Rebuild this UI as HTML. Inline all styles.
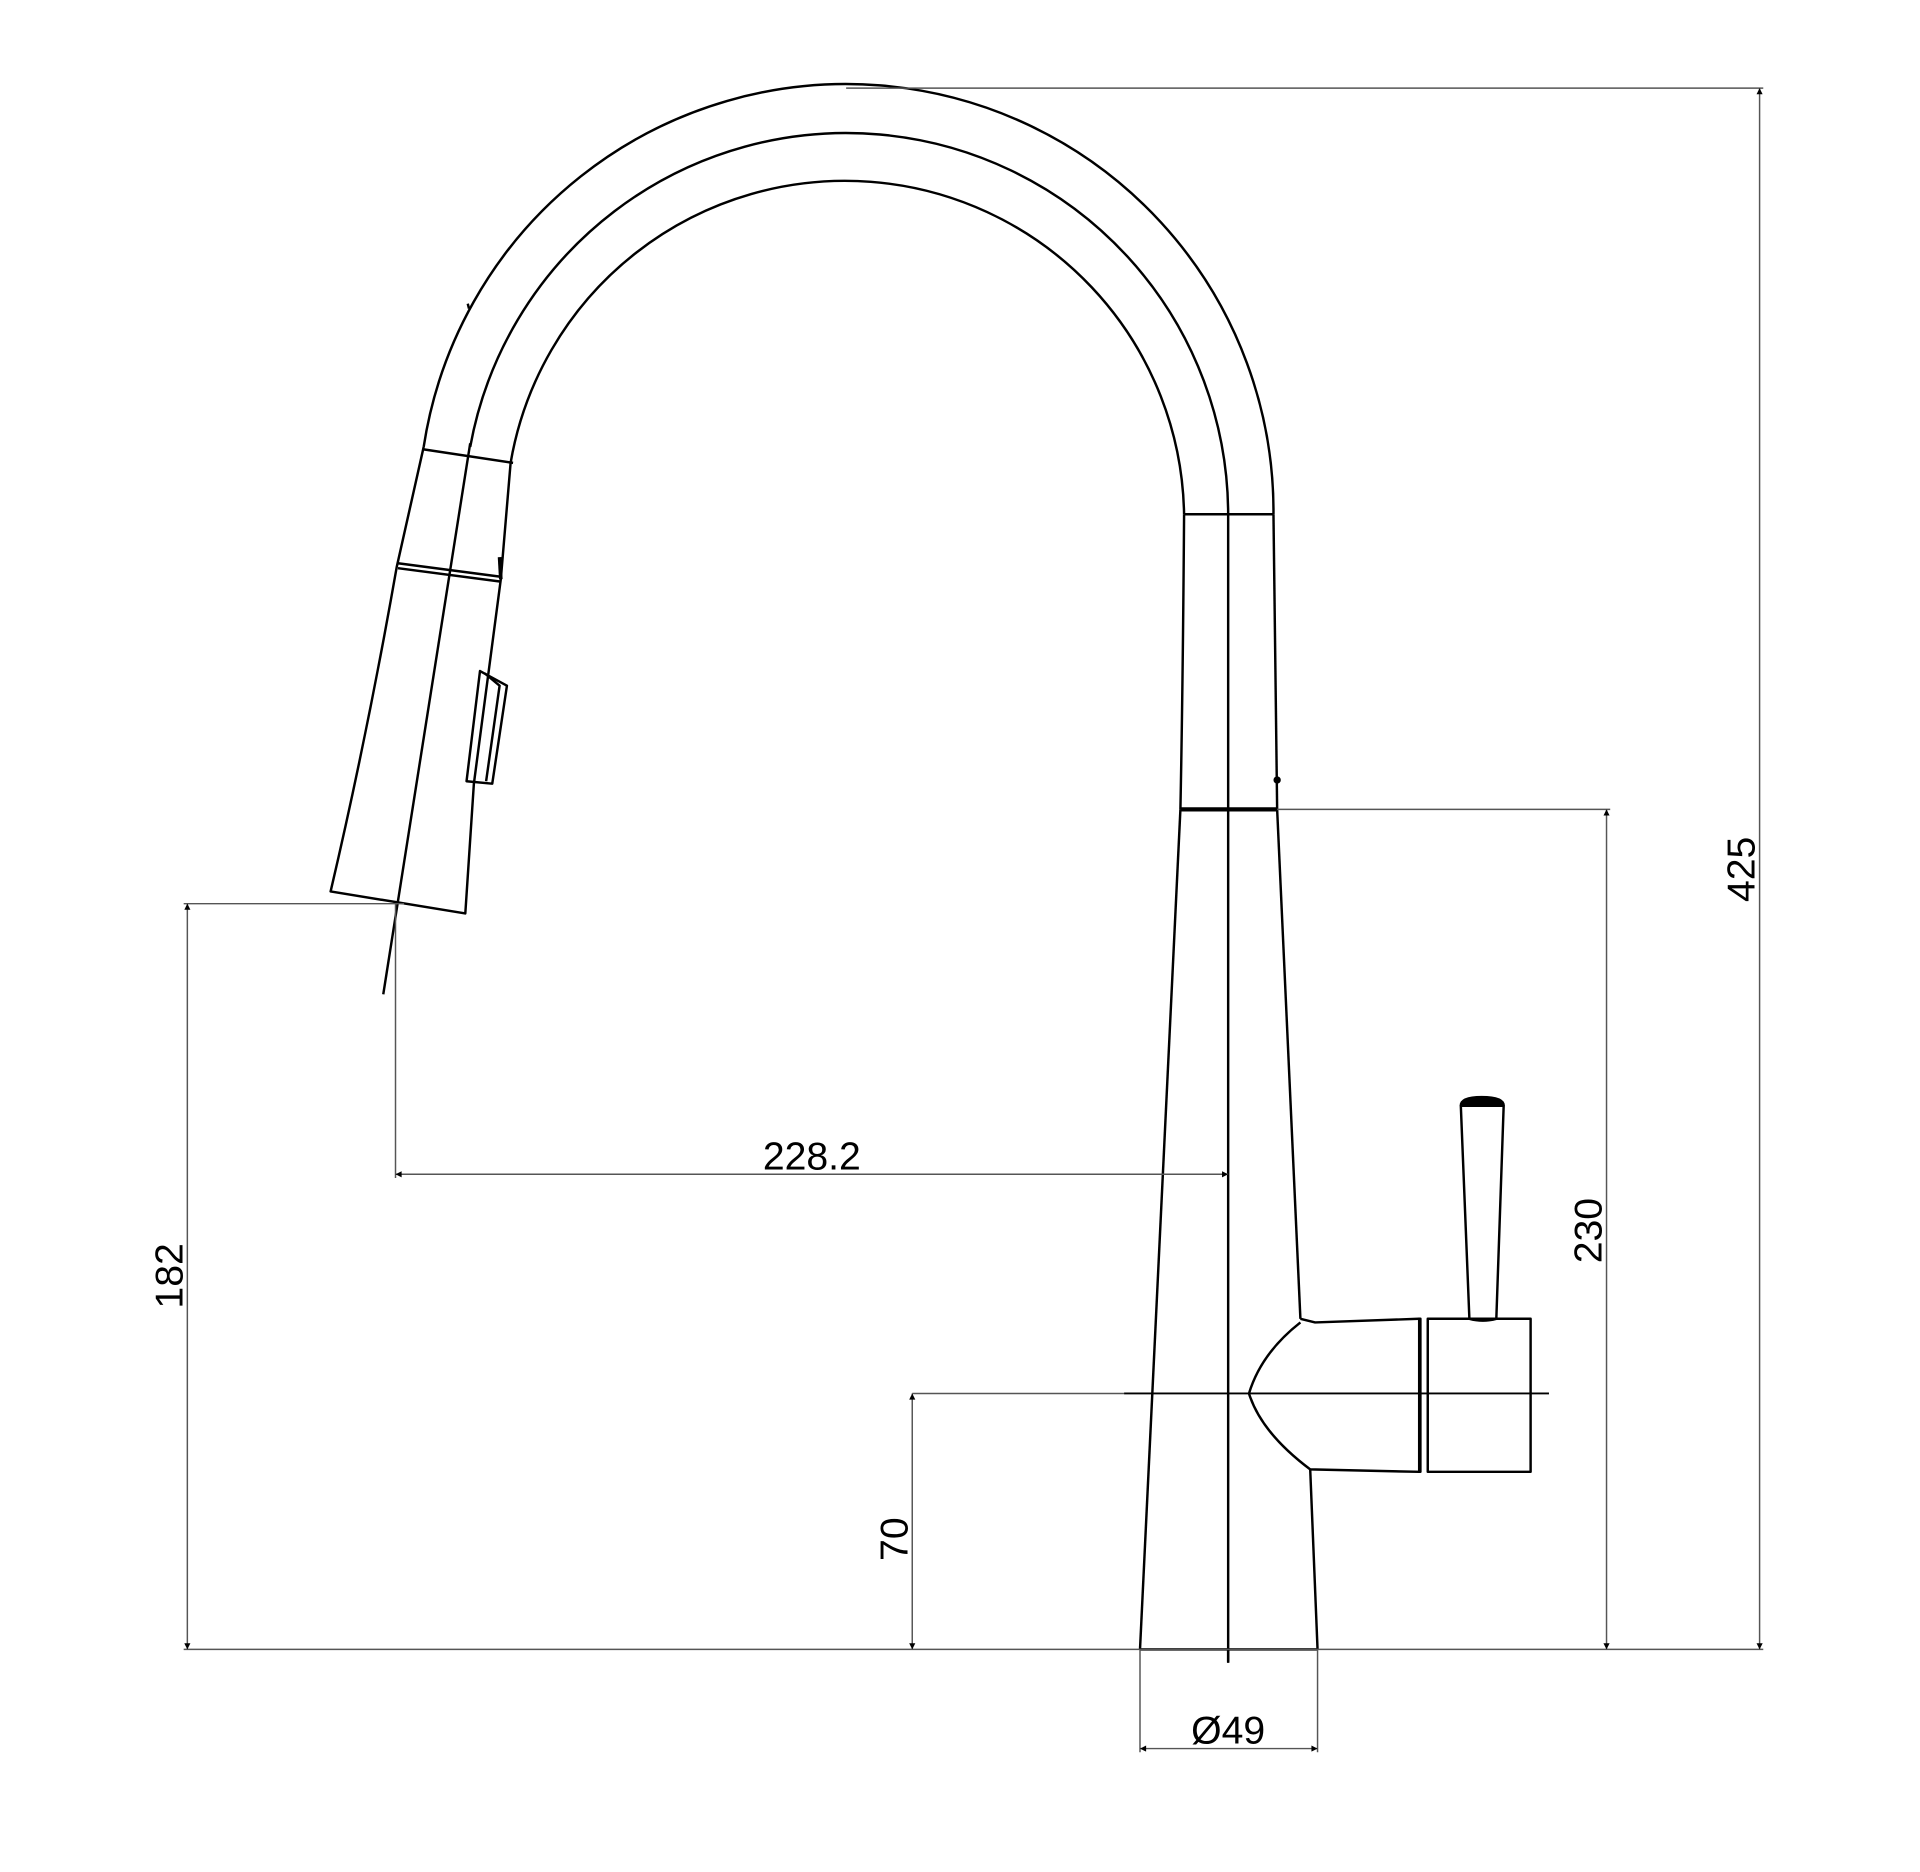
<!DOCTYPE html>
<html><head><style>html,body{margin:0;padding:0;background:#fff}svg{display:block}</style></head>
<body>
<svg width="1920" height="1872" viewBox="0 0 1568 1528.8" xmlns="http://www.w3.org/2000/svg">
<defs>
<marker id="a" viewBox="0 0 10 10" refX="10" refY="5" markerWidth="12" markerHeight="5" markerUnits="userSpaceOnUse" orient="auto-start-reverse"><path d="M0,0 L10,5 L0,10z" fill="#000"/></marker>
</defs>
<g fill="none" stroke="#000" stroke-width="2" stroke-linejoin="round">
<!-- arcs -->
<path d="M346,365 A349,349 0 0 1 1040,420"/>
<path d="M384,365 A312,312 0 0 1 1003,420"/>
<path d="M417,378 A277,277 0 0 1 967,420"/>
<path d="M1040,420 Q1042,560 1043,661"/>
<path d="M967,420 Q966,560 964,661"/>
<line x1="967" y1="420" x2="1040" y2="420"/>
<line x1="964" y1="661" x2="1043" y2="661" stroke-width="3.5"/>
<line x1="1003" y1="420" x2="1003" y2="1357"/>
<line x1="1003" y1="1347" x2="1003" y2="1358"/>
<!-- body -->
<line x1="964" y1="661" x2="931" y2="1347"/>
<line x1="1043" y1="661" x2="1062" y2="1077"/>
<line x1="1070" y1="1200" x2="1076" y2="1347"/>
<line x1="931" y1="1347" x2="1076" y2="1347"/>
<circle cx="1043" cy="637" r="2" fill="#000"/>
<!-- lever hub -->
<path d="M1062,1077 L1074,1080 L1159,1077"/>
<path d="M1062,1080 Q1030,1105 1020,1138 Q1030,1170 1070,1200 L1159,1202"/>
<rect x="1159" y="1077" width="1" height="125"/>
<rect x="1166" y="1077" width="84" height="125"/>
<path d="M1193,903 L1228,903 L1222,1077 Q1211,1080 1200,1077 Z"/>
<path d="M1193,903 Q1193,896 1210,896 Q1228,896 1228,903" fill="#000"/>
<!-- head -->
<path d="M346,365 L324,463 Q300,600 270,728 L380,746 L387,640 L409,473 L417,378"/>
<line x1="346" y1="367" x2="419" y2="378"/>
<line x1="325" y1="460" x2="409" y2="471" stroke-width="2"/>
<line x1="325" y1="464" x2="409" y2="475" stroke-width="2"/>
<path d="M408,455 L409,473" stroke-width="3"/>
<path d="M392,548 L414,560 L402,640 L381,638 Z"/>
<path d="M396,550 L408,560 L397,638"/>
<line x1="384" y1="362" x2="313" y2="812"/>
<line x1="382" y1="248" x2="383" y2="252"/>
</g>
<!-- dimensions -->
<g stroke="#555" stroke-width="1.2" fill="none">
<line x1="691" y1="72" x2="1440" y2="72"/>
<line x1="150" y1="1347" x2="1440" y2="1347"/>
<line x1="1043" y1="661" x2="1315" y2="661"/>
<line x1="150" y1="738" x2="330" y2="738"/>
<line x1="745" y1="1138" x2="918" y2="1138"/>
<line x1="918" y1="1138" x2="1265" y2="1138" stroke="#000" stroke-width="1.5"/>
<line x1="323" y1="738" x2="323" y2="962"/>
<line x1="931" y1="1347" x2="931" y2="1431"/>
<line x1="1076" y1="1347" x2="1076" y2="1431"/>
<line x1="1437" y1="72" x2="1437" y2="1347" marker-start="url(#a)" marker-end="url(#a)"/>
<line x1="1312" y1="661" x2="1312" y2="1347" marker-start="url(#a)" marker-end="url(#a)"/>
<line x1="153" y1="738" x2="153" y2="1347" marker-start="url(#a)" marker-end="url(#a)"/>
<line x1="745" y1="1138" x2="745" y2="1347" marker-start="url(#a)" marker-end="url(#a)"/>
<line x1="323" y1="959" x2="1003" y2="959" marker-start="url(#a)" marker-end="url(#a)"/>
<line x1="931" y1="1428" x2="1076" y2="1428" marker-start="url(#a)" marker-end="url(#a)"/>
</g>
<g font-family="Liberation Sans, sans-serif" font-size="32" fill="#000" text-anchor="middle">
<text x="663" y="955">228.2</text>
<text x="1003" y="1424">Ø49</text>
<text transform="translate(1433,710) rotate(-90)">425</text>
<text transform="translate(1308,1005) rotate(-90)">230</text>
<text transform="translate(149,1042) rotate(-90)">182</text>
<text transform="translate(741,1257) rotate(-90)">70</text>
</g>
</svg>
</body></html>
